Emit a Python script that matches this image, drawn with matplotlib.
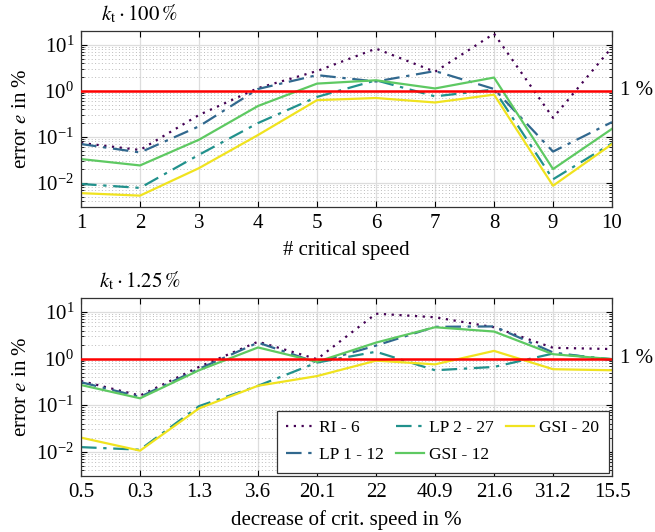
import numpy as np
import matplotlib
matplotlib.use("Agg")
import matplotlib.pyplot as plt
import matplotlib.transforms as mtransforms
from matplotlib.ticker import LogLocator, NullFormatter

plt.rcParams['font.family'] = ['Liberation Serif', 'DejaVu Serif']
plt.rcParams['mathtext.fontset'] = 'stix'
plt.rcParams['font.size'] = 15

# Datos
x_pos = np.arange(1, 11)
etiquetas_arriba = ['1', '2', '3', '4', '5', '6', '7', '8', '9', '10']
etiquetas_abajo = ['0.5', '0.3', '1.3', '3.6', '20.1', '22', '40.9', '21.6', '31.2', '15.5']

series = ['RI - 6', 'LP 1 - 12', 'LP 2 - 27', 'GSI - 12', 'GSI - 20']

# k_t * 100 %
ri_100 = [0.074, 0.052, 0.3, 1.15, 2.7, 8.3, 2.6, 17.5, 0.26, 8.9]
lp1_100 = [0.07, 0.046, 0.17, 1.1, 2.2, 1.6, 2.7, 1.1, 0.048, 0.21]
lp2_100 = [0.0095, 0.0078, 0.041, 0.2, 0.74, 1.7, 0.76, 1.07, 0.012, 0.073]
gsi12_100 = [0.033, 0.024, 0.087, 0.47, 1.44, 1.7, 1.13, 1.95, 0.02, 0.15]
gsi20_100 = [0.006, 0.0053, 0.021, 0.11, 0.63, 0.7, 0.56, 0.83, 0.0087, 0.07]

# k_t * 1.25 %
ri_125 = [0.33, 0.16, 0.66, 2.3, 0.97, 9.2, 7.7, 4.7, 1.7, 1.6]
lp1_125 = [0.31, 0.15, 0.6, 2.2, 0.82, 1.9, 4.8, 4.9, 1.35, 0.92]
lp2_125 = [0.0125, 0.011, 0.095, 0.26, 0.82, 1.4, 0.56, 0.66, 1.28, 0.97]
gsi12_125 = [0.27, 0.14, 0.56, 1.73, 0.85, 2.2, 4.7, 3.8, 1.24, 0.97]
gsi20_125 = [0.02, 0.0105, 0.085, 0.26, 0.42, 0.9, 0.75, 1.46, 0.59, 0.56]

colores = ['#440154', '#31688e', '#21918c', '#5ec962', '#f0e31f']
estilos = [(0, (1, 2.5)), (0, (7, 3, 1.5, 3)), (0, (7, 3, 1.5, 3)), '-', '-']


def dibujar(ax, datos, etiquetas, titulo, xlabel):
    for d, nombre, c, ls in zip(datos, series, colores, estilos):
        ax.plot(x_pos, d, color=c, linestyle=ls, linewidth=1.6, label=nombre)
    ax.axhline(1.0, color='#ff0000', linewidth=1.8, zorder=3)
    ax.set_yscale('log')
    ax.set_ylim(3e-3, 2e1)
    ax.set_xlim(1, 10)
    ax.set_xticks(x_pos)
    ax.set_xticklabels(etiquetas)
    ax.yaxis.set_major_locator(LogLocator(base=10, numticks=10))
    ax.yaxis.set_minor_locator(LogLocator(base=10, subs=np.arange(2, 10), numticks=10))
    ax.yaxis.set_minor_formatter(NullFormatter())
    ax.grid(True, which='major', color='#dddddd', linewidth=0.9, linestyle='-')
    ax.grid(True, which='minor', axis='y', color='#bbbbbb', linewidth=0.7, linestyle=(0, (1, 2.5)))
    ax.set_axisbelow(True)
    ax.tick_params(which='both', direction='in', top=True, right=True, labelsize=15)
    ax.tick_params(which='major', length=4, pad=5)
    ax.tick_params(which='minor', length=2)
    for s in ax.spines.values():
        s.set_color('#333333')
        s.set_linewidth(0.9)
    ax.set_ylabel('error $e$ in %', fontsize=15, labelpad=4)
    ax.set_xlabel(xlabel, fontsize=15, labelpad=6)
    ax.text(0.11, 1.03, titulo, transform=ax.transAxes, ha='center', va='bottom', fontsize=15)
    trans = mtransforms.blended_transform_factory(ax.transAxes, ax.transData)
    ax.text(1.015, 1.0, '1 %', transform=trans, ha='left', va='center', fontsize=15)


fig = plt.figure(figsize=(6.55, 5.32), dpi=100)
ax1 = fig.add_axes([0.1237, 0.6109, 0.8107, 0.3308])
ax2 = fig.add_axes([0.1237, 0.1053, 0.8107, 0.3346])

dibujar(ax1, [ri_100, lp1_100, lp2_100, gsi12_100, gsi20_100], etiquetas_arriba,
        r'$k_\mathrm{t} \cdot 100\,\%$', '# critical speed')
dibujar(ax2, [ri_125, lp1_125, lp2_125, gsi12_125, gsi20_125], etiquetas_abajo,
        r'$k_\mathrm{t} \cdot 1.25\,\%$', 'decrease of crit. speed in %')

leg = ax2.legend(loc='lower right', ncol=3, fontsize=12.5, frameon=True, fancybox=False,
                 framealpha=1, edgecolor='#333333', borderaxespad=0.2, handlelength=1.6,
                 columnspacing=0.7, handletextpad=0.3, labelspacing=0.6, borderpad=0.55)
leg.get_frame().set_linewidth(0.9)

fig.savefig('out.png', dpi=100)
